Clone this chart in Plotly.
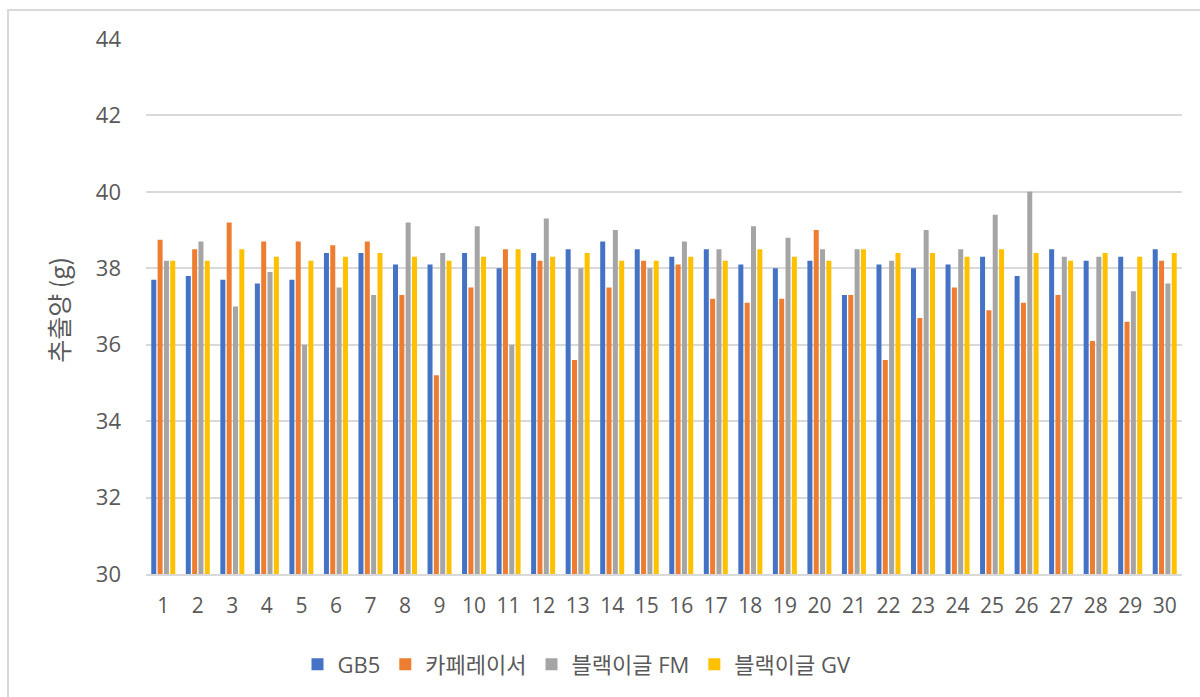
import plotly.graph_objects as go

categories = [str(i) for i in range(1, 31)]
gb5 = [37.7, 37.8, 37.7, 37.6, 37.7, 38.4, 38.4, 38.1, 38.1, 38.4, 38.0, 38.4, 38.5, 38.7, 38.5,
       38.3, 38.5, 38.1, 38.0, 38.2, 37.3, 38.1, 38.0, 38.1, 38.3, 37.8, 38.5, 38.2, 38.3, 38.5]
caferacer = [38.75, 38.5, 39.2, 38.7, 38.7, 38.6, 38.7, 37.3, 35.2, 37.5, 38.5, 38.2, 35.6, 37.5, 38.2,
             38.1, 37.2, 37.1, 37.2, 39.0, 37.3, 35.6, 36.7, 37.5, 36.9, 37.1, 37.3, 36.1, 36.6, 38.2]
blackeagle_fm = [38.2, 38.7, 37.0, 37.9, 36.0, 37.5, 37.3, 39.2, 38.4, 39.1, 36.0, 39.3, 38.0, 39.0, 38.0,
                 38.7, 38.5, 39.1, 38.8, 38.5, 38.5, 38.2, 39.0, 38.5, 39.4, 40.0, 38.3, 38.3, 37.4, 37.6]
blackeagle_gv = [38.2, 38.2, 38.5, 38.3, 38.2, 38.3, 38.4, 38.3, 38.2, 38.3, 38.5, 38.3, 38.4, 38.2, 38.2,
                 38.3, 38.2, 38.5, 38.3, 38.2, 38.5, 38.4, 38.4, 38.3, 38.5, 38.4, 38.2, 38.4, 38.3, 38.4]
series_names = ["GB5", "카페레이서", "블랙이글 FM", "블랙이글 GV"]
colors = ["#4472C4", "#ED7D31", "#A5A5A5", "#FFC000"]
y_ticks = [30, 32, 34, 36, 38, 40, 42, 44]

FONT = "Open Sans, Noto Sans CJK KR, sans-serif"
TXT = "#595959"

fig = go.Figure()
for name, vals, col in zip(series_names, [gb5, caferacer, blackeagle_fm, blackeagle_gv], colors):
    fig.add_trace(go.Bar(x=categories, y=vals, name=name, marker=dict(color=col, line=dict(width=0))))

W, H = 1200, 697
L, R, T, B = 146, 18, 39, 122.5
pw, ph = W - L - R, H - T - B

def px_x(p):
    return (p - L) / pw

def px_y(p):
    return (H - B - p) / ph

fig.update_layout(
    width=W, height=H,
    margin=dict(l=L, r=R, t=T, b=B),
    paper_bgcolor="white", plot_bgcolor="white",
    barmode="group", bargap=0.267, bargroupgap=0.21,
    font=dict(family=FONT, color=TXT, size=22),
    legend=dict(orientation="h", x=px_x(577), xanchor="center", y=px_y(665), yanchor="middle",
                font=dict(size=22, color=TXT, family=FONT), itemwidth=30, tracegroupgap=0),
    xaxis=dict(type="category", showgrid=False, showline=True, linecolor="#D9D9D9", linewidth=1.5,
               ticks="", tickfont=dict(size=21, color=TXT), ticklabelstandoff=12),
    yaxis=dict(range=[30, 44], tickvals=y_ticks, showgrid=True, gridcolor="#D9D9D9", gridwidth=1.5,
               zeroline=False, showline=False, ticks="", tickfont=dict(size=22, color=TXT),
               ticklabelstandoff=24),
    annotations=[dict(text="추출양 (g)", textangle=-90, xref="paper", yref="paper",
                      x=px_x(58), y=px_y(310), xanchor="center", yanchor="middle", showarrow=False,
                      font=dict(size=25, color=TXT, family="Noto Sans CJK KR, Open Sans"))],
    shapes=[dict(type="rect", xref="paper", yref="paper", x0=px_x(8), y0=-0.5, x1=1.2, y1=px_y(10),
                 line=dict(color="#D9D9D9", width=2), fillcolor="rgba(0,0,0,0)", layer="below")],
)

fig.write_html("out.html", config={"displayModeBar": False},
               post_script="document.body.style.margin='0';document.body.style.padding='0';")
